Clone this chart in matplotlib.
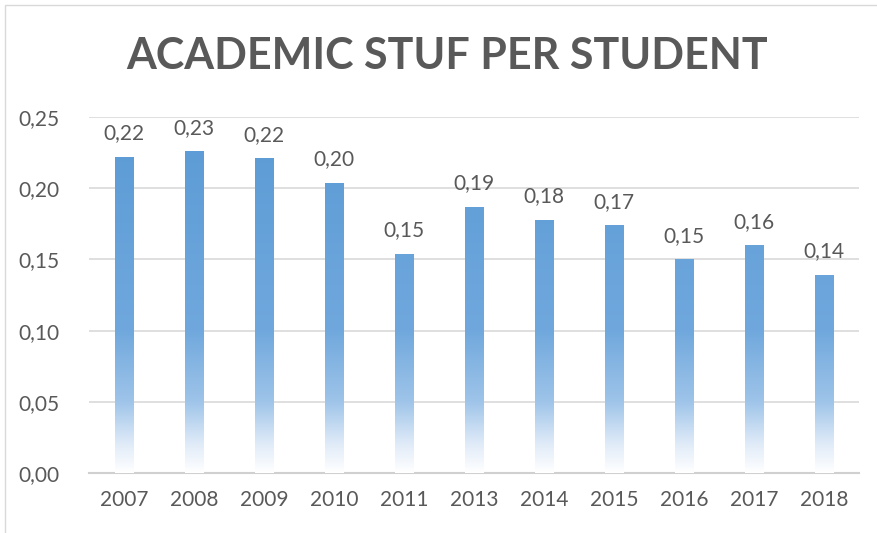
import numpy as np
import matplotlib
matplotlib.use("Agg")
import matplotlib.pyplot as plt
from matplotlib.colors import LinearSegmentedColormap
from matplotlib.ticker import FuncFormatter
from matplotlib.patches import Rectangle

# data
years = ["2007", "2008", "2009", "2010", "2011", "2013", "2014", "2015", "2016", "2017", "2018"]
values = [0.222, 0.226, 0.221, 0.204, 0.154, 0.187, 0.178, 0.174, 0.150, 0.160, 0.139]
labels = ["0,22", "0,23", "0,22", "0,20", "0,15", "0,19", "0,18", "0,17", "0,15", "0,16", "0,14"]

plt.rcParams['font.family'] = ['Lato', 'DejaVu Sans']
txt = "#595959"

fig = plt.figure(figsize=(8.77, 5.33), dpi=100)
ax = fig.add_axes([89/877, 1 - 473/533, (859-89)/877, (473-117)/533])

# gradient blue -> white towards the bottom
cmap = LinearSegmentedColormap.from_list(
    "fade", [(0.0, "#ffffff"), (0.08, "#e0ebf8"), (0.20, "#9ec4e9"),
             (0.40, "#70a8dd"), (1.0, "#5a9ad5")])
grad = np.linspace(0, 1, 256).reshape(-1, 1)

x = np.arange(len(years))
w = 0.26
bars = ax.bar(x, values, width=w, color="none", edgecolor="none", zorder=3)
for b in bars:
    im = ax.imshow(grad, cmap=cmap, origin="lower", aspect="auto",
                   extent=[b.get_x(), b.get_x() + w, 0, 0.25], zorder=3)
    im.set_clip_path(b)

for xi, v, lab in zip(x, values, labels):
    ax.text(xi, v + 0.0095, lab, ha="center", va="bottom", fontsize=15, color=txt)

ax.set_xlim(-0.5, len(years) - 0.5)
ax.set_ylim(0, 0.25)
ax.set_yticks(np.arange(0, 0.251, 0.05))
ax.yaxis.set_major_formatter(FuncFormatter(lambda v, p: f"{v:.2f}".replace(".", ",")))
ax.set_xticks(x)
ax.set_xticklabels(years)
ax.tick_params(length=0, labelsize=15, labelcolor=txt)
ax.tick_params(axis="y", pad=21)
ax.tick_params(axis="x", pad=12)
ax.grid(axis="y", color="#d9d9d9", lw=1.2, zorder=0)
for s in ["top", "right", "left"]:
    ax.spines[s].set_visible(False)
ax.spines["bottom"].set_color("#d0d0d0")
ax.spines["bottom"].set_linewidth(1.5)

fig.text(447/877, 1 - 56/533, "ACADEMIC STUF PER STUDENT", ha="center", va="center",
         fontsize=31, fontweight="bold", color=txt)

fig.patches.append(Rectangle((5/877, -0.01), 1.0, 1 - 5/533 + 0.01, transform=fig.transFigure,
                             fill=False, edgecolor="#d9d9d9", lw=1))

fig.savefig("out.png", dpi=100)
